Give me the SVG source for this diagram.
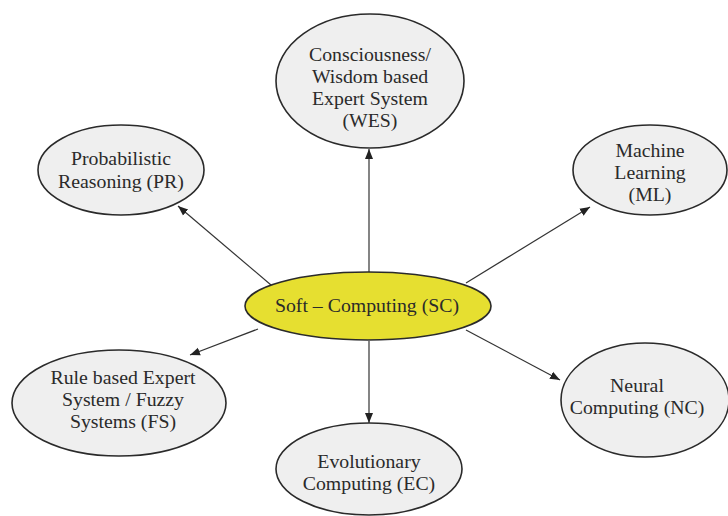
<svg xmlns="http://www.w3.org/2000/svg" width="728" height="516" viewBox="0 0 728 516">
<style>
.n ellipse{fill:#efefef;stroke:#2a2a2a;stroke-width:1.6}
#SC ellipse{fill:#e6df30}
text{font-family:"Liberation Serif","Times New Roman",serif;font-size:19.8px;fill:#2a2a2a;text-anchor:middle}
.c line{stroke:#333;stroke-width:1.2;marker-end:url(#ah)}
</style>
<defs>
<marker id="ah" viewBox="0 0 10 10" refX="10" refY="5" markerWidth="10" markerHeight="10" markerUnits="userSpaceOnUse" orient="auto">
<path d="M0,1 L10,5 L0,9 z" fill="#222"/>
</marker>
</defs>
<rect width="728" height="516" fill="#fff"/>
<g class="c">
<line x1="369" y1="272" x2="369" y2="149"/>
<line x1="271" y1="285" x2="178" y2="206"/>
<line x1="466" y1="283" x2="590" y2="207"/>
<line x1="258" y1="329" x2="190" y2="355"/>
<line x1="466" y1="330" x2="560" y2="380"/>
<line x1="369" y1="341" x2="369" y2="423"/>
</g>
<g id="SC" class="n"><ellipse cx="368" cy="306" rx="123" ry="34"/><text x="367" y="312">Soft – Computing (SC)</text></g>
<g id="WES" class="n"><ellipse cx="370" cy="81" rx="94" ry="67"/>
<text x="370" y="61">Consciousness/</text><text x="370" y="83">Wisdom based</text><text x="370" y="105">Expert System</text><text x="370" y="127">(WES)</text></g>
<g id="PR" class="n"><ellipse cx="121" cy="170" rx="83" ry="45"/>
<text x="121" y="165">Probabilistic</text><text x="121" y="188">Reasoning (PR)</text></g>
<g id="ML" class="n"><ellipse cx="650" cy="170" rx="77" ry="45"/>
<text x="650" y="157">Machine</text><text x="650" y="179">Learning</text><text x="650" y="201">(ML)</text></g>
<g id="FS" class="n"><ellipse cx="119" cy="403" rx="107" ry="53"/>
<text x="123" y="384">Rule based Expert</text><text x="123" y="406">System / Fuzzy</text><text x="123" y="428">Systems (FS)</text></g>
<g id="NC" class="n"><ellipse cx="645" cy="400" rx="84" ry="57"/>
<text x="637" y="392">Neural</text><text x="637" y="414">Computing (NC)</text></g>
<g id="EC" class="n"><ellipse cx="369" cy="469" rx="93" ry="46"/>
<text x="369" y="468">Evolutionary</text><text x="369" y="490">Computing (EC)</text></g>
</svg>
